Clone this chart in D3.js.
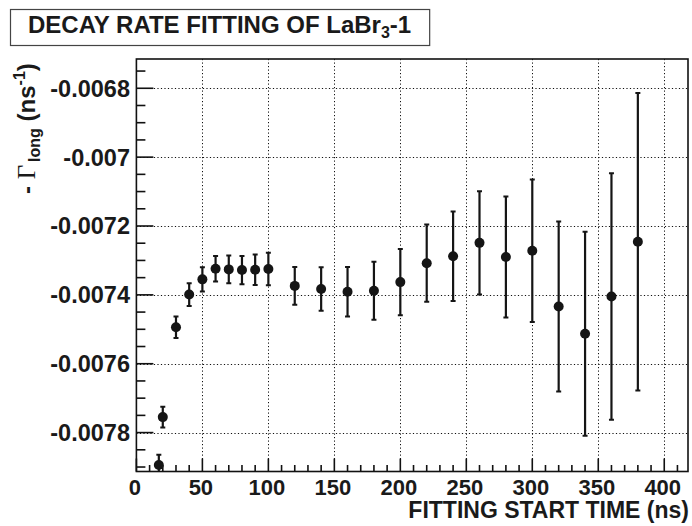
<!DOCTYPE html>
<html><head><meta charset="utf-8">
<script src="https://cdn.jsdelivr.net/npm/d3@7"></script>
<style>
html,body{margin:0;padding:0;background:#fff;}
svg{display:block;}
text{font-family:"Liberation Sans",Arial,Helvetica,sans-serif;font-weight:bold;fill:#1a1a1a;}
</style></head>
<body>
<svg id="c" width="692" height="526"></svg>
<script>
// ---- data ----
const startTimes = [17, 20, 30, 40, 50, 60, 70, 80, 90, 100, 120, 140, 160, 180, 200, 220, 240, 260, 280, 300, 320, 340, 360, 380];
const rates = [-0.007894, -0.007755, -0.007494, -0.007399, -0.007355, -0.007324, -0.007326, -0.007328, -0.007327, -0.007325,
               -0.007374, -0.007383, -0.007391, -0.007388, -0.007363, -0.007308, -0.007288, -0.007249, -0.007290, -0.007272,
               -0.007434, -0.007513, -0.007405, -0.007246];
const rateErrors = [0.000030, 0.000030, 0.000031, 0.000033, 0.000035, 0.000037, 0.000040, 0.000041, 0.000044, 0.000047,
                    0.000055, 0.000063, 0.000072, 0.000084, 0.000096, 0.000112, 0.000130, 0.000150, 0.000176, 0.000207,
                    0.000247, 0.000296, 0.000358, 0.000432];
const xTickValues = [0, 50, 100, 150, 200, 250, 300, 350, 400];
const yTickValues = [-0.0068, -0.0070, -0.0072, -0.0074, -0.0076, -0.0078];
const yTickLabels = ["-0.0068", "-0.007", "-0.0072", "-0.0074", "-0.0076", "-0.0078"];
const titleText = "DECAY RATE FITTING OF LaBr";
const xTitle = "FITTING START TIME (ns)";

// ---- layout ----
const L = 136.4, R = 688, T = 59, B = 471.5;
const svg = d3.select("#c");
const x = d3.scaleLinear().domain([0, 418]).range([L, R]);
const y = d3.scaleLinear().domain([-0.007913, -0.006715]).range([B, T]);

svg.append("defs").append("clipPath").attr("id","clip")
  .append("rect").attr("x",L).attr("y",T).attr("width",R-L).attr("height",B-T);

// grid
const grid = svg.append("g").attr("stroke","#111").attr("stroke-width",1).attr("stroke-dasharray","1.2,2.3");
grid.selectAll("line.gx").data(xTickValues.filter(v=>v>0)).join("line")
  .attr("x1",d=>Math.round(x(d))+0.5).attr("x2",d=>Math.round(x(d))+0.5).attr("y1",T).attr("y2",B);
grid.selectAll("line.gy").data(yTickValues).join("line")
  .attr("y1",d=>Math.round(y(d))+0.5).attr("y2",d=>Math.round(y(d))+0.5).attr("x1",L).attr("x2",R);

// axes with ticks pointing inward
const xMinor = d3.range(0, 420, 10);
const yMinor = d3.range(-0.0079, -0.00671, 0.00005);
const ax = svg.append("g").attr("stroke","#111").attr("stroke-width",1.6);
ax.selectAll("line.xm").data(xMinor).join("line")
  .attr("x1",d=>x(d)).attr("x2",d=>x(d)).attr("y1",B)
  .attr("y2",d=> (Math.abs(d%50)<1e-9) ? B-13 : B-6.5);
ax.selectAll("line.ym").data(yMinor.filter(v=>v>=-0.007913&&v<=-0.006715)).join("line")
  .attr("y1",d=>y(d)).attr("y2",d=>y(d)).attr("x1",L)
  .attr("x2",d=> yTickValues.some(t=>Math.abs(t-d)<1e-9) ? L+17 : L+9);

svg.append("rect").attr("x",L).attr("y",T).attr("width",R-L).attr("height",B-T)
  .attr("fill","none").attr("stroke","#111").attr("stroke-width",1.6);

// tick labels
svg.selectAll("text.xl").data(xTickValues).join("text")
  .attr("x",d=>x(d)-1.5).attr("y",495).attr("text-anchor","middle")
  .attr("font-size",22).text(d=>d);
svg.selectAll("text.yl").data(yTickValues).join("text")
  .attr("x",130).attr("y",d=>y(d)+8.4).attr("text-anchor","end")
  .attr("font-size",23.5).text((d,i)=>yTickLabels[i]);

// axis titles
svg.append("text").attr("x",689).attr("y",517.5).attr("text-anchor","end")
  .attr("font-size",23).text(xTitle);

const yt = svg.append("text").attr("transform","translate(35,194) rotate(-90)")
  .attr("font-size",24).attr("text-anchor","start");
yt.append("tspan").text("- ");
yt.append("tspan").attr("font-family","'Liberation Serif','Times New Roman',serif").attr("font-weight","normal").attr("font-size",25).text("Γ");
yt.append("tspan").attr("font-size",16).attr("dy",5).attr("dx",3).text("long");
yt.append("tspan").attr("dy",-5).text(" (ns");
yt.append("tspan").attr("font-size",16).attr("dy",-10).text("-1");
yt.append("tspan").attr("dy",10).text(")");

// data: error bars and markers
const pts = svg.append("g").attr("clip-path","url(#clip)");
const data = startTimes.map((t,i)=>({t, v:rates[i], e:rateErrors[i]}));
pts.selectAll("line.eb").data(data).join("line")
  .attr("x1",d=>x(d.t)).attr("x2",d=>x(d.t))
  .attr("y1",d=>y(d.v+d.e)).attr("y2",d=>y(d.v-d.e))
  .attr("stroke","#151515").attr("stroke-width",2.2);
pts.selectAll("line.cu").data(data).join("line")
  .attr("x1",d=>x(d.t)-2.5).attr("x2",d=>x(d.t)+2.5)
  .attr("y1",d=>y(d.v+d.e)).attr("y2",d=>y(d.v+d.e))
  .attr("stroke","#151515").attr("stroke-width",2);
pts.selectAll("line.cl").data(data).join("line")
  .attr("x1",d=>x(d.t)-2.5).attr("x2",d=>x(d.t)+2.5)
  .attr("y1",d=>y(d.v-d.e)).attr("y2",d=>y(d.v-d.e))
  .attr("stroke","#151515").attr("stroke-width",2);
pts.selectAll("circle").data(data).join("circle")
  .attr("cx",d=>x(d.t)).attr("cy",d=>y(d.v)).attr("r",5).attr("fill","#151515");

// title box
const tg = svg.append("g");
const tt = tg.append("text").attr("x",28).attr("y",32.5).attr("font-size",24);
tt.append("tspan").text(titleText);
tt.append("tspan").attr("font-size",16).attr("dy",5).text("3");
tt.append("tspan").attr("dy",-5).text("-1");
const tw = tt.node().getComputedTextLength();
tg.insert("rect","text").attr("x",10.5).attr("y",9.5).attr("width",tw+36).attr("height",36)
  .attr("fill","#fff").attr("stroke","#444").attr("stroke-width",1.2);
</script>
</body></html>
